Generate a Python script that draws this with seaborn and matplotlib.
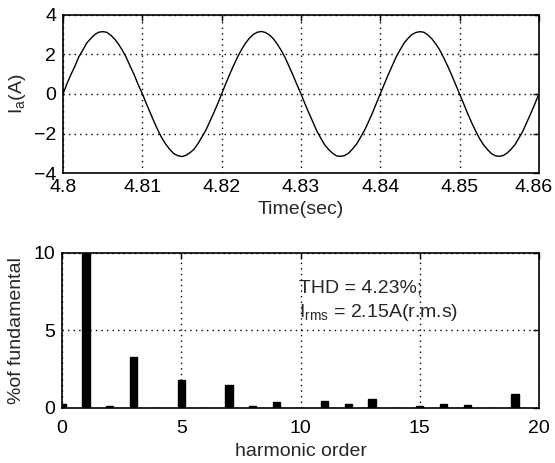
import numpy as np
import pandas as pd
import matplotlib
matplotlib.use("Agg")
import matplotlib.pyplot as plt
import matplotlib.transforms as mtransforms
import seaborn as sns

# phase current samples, 0.5 ms apart, 4.800 s .. 4.860 s
current = [
    0.00, 0.52, 0.98, 1.40, 1.88, 2.22, 2.58, 2.80, 3.00, 3.12,
    3.15, 3.12, 2.98, 2.78, 2.52, 2.20, 1.82, 1.38, 0.95, 0.45,
    0.02, -0.48, -0.95, -1.42, -1.86, -2.25, -2.56, -2.82, -3.02, -3.12,
    -3.16, -3.10, -2.97, -2.80, -2.52, -2.18, -1.84, -1.40, -0.96, -0.50,
    0.00, 0.50, 0.98, 1.43, 1.86, 2.24, 2.56, 2.82, 3.01, 3.12,
    3.16, 3.11, 2.99, 2.80, 2.53, 2.21, 1.84, 1.40, 0.94, 0.47,
    0.01, -0.49, -0.96, -1.41, -1.87, -2.23, -2.57, -2.81, -3.00, -3.13,
    -3.15, -3.11, -2.99, -2.78, -2.54, -2.20, -1.85, -1.42, -0.97, -0.48,
    0.01, 0.49, 0.97, 1.42, 1.87, 2.23, 2.57, 2.81, 3.01, 3.11,
    3.15, 3.12, 2.98, 2.79, 2.53, 2.22, 1.83, 1.41, 0.96, 0.48,
    0.00, -0.48, -0.97, -1.43, -1.85, -2.24, -2.56, -2.80, -3.01, -3.12,
    -3.15, -3.11, -2.98, -2.79, -2.55, -2.21, -1.86, -1.41, -0.96, -0.49,
    0.00,
]
time = np.linspace(4.80, 4.86, len(current))

# harmonic spectrum (% of fundamental)
orders = [0, 1, 2, 3, 4, 5, 6, 7, 8, 9, 10, 11, 12, 13, 14, 15, 16, 17, 18, 19, 20]
percent = [0.25, 100, 0.15, 3.3, 0.0, 1.8, 0.0, 1.46, 0.15, 0.35, 0.0,
           0.42, 0.25, 0.55, 0.0, 0.15, 0.25, 0.2, 0.0, 0.87, 0.0]

thd_text = "THD = 4.23%;"
rms_text = r"$\mathregular{I_{rms}}$ = 2.15A(r.m.s)"

sns.set_style("white")
plt.rcParams["font.family"] = ["Liberation Sans", "DejaVu Sans"]
plt.rcParams["font.size"] = 14
plt.rcParams["mathtext.fontset"] = "custom"
plt.rcParams["mathtext.rm"] = "Liberation Sans"

fig = plt.figure(figsize=(5.55, 4.63), dpi=100)
ax1 = fig.add_axes([0.1135, 0.626, 0.8575, 0.342])
ax2 = fig.add_axes([0.112, 0.119, 0.859, 0.3346])


def matlab_axes(ax, xpad):
    for s in ax.spines.values():
        s.set_visible(True)
        s.set_color("black")
        s.set_linewidth(1.2)
    ax.tick_params(direction="in", length=4, width=1, colors="black",
                   top=True, right=True, labelsize=14)
    ax.tick_params(axis="y", pad=5)
    ax.tick_params(axis="x", pad=xpad)
    ax.grid(True, linestyle=(0, (1, 3)), color="black", linewidth=1)
    ax.set_axisbelow(False)


df_i = pd.DataFrame({"t": time, "i": current})
sns.lineplot(data=df_i, x="t", y="i", ax=ax1, color="black", linewidth=1)
ax1.set_xlim(4.80, 4.86)
ax1.set_ylim(-4, 4)
ax1.set_xticks([4.80, 4.81, 4.82, 4.83, 4.84, 4.85, 4.86])
ax1.set_xticklabels(["4.8", "4.81", "4.82", "4.83", "4.84", "4.85", "4.86"])
ax1.set_yticks([-4, -2, 0, 2, 4])
matlab_axes(ax1, 4)
ax1.set_xlabel("Time(sec)", fontsize=14, labelpad=4)
ax1.set_ylabel(r"I$_\mathregular{a}$(A)", fontsize=14, labelpad=4)

# nudge last time label left so it stays inside the figure
last = ax1.get_xticklabels()[-1]
last.set_transform(last.get_transform() +
                   mtransforms.ScaledTranslation(-0.05, 0, fig.dpi_scale_trans))

df_h = pd.DataFrame({"order": orders, "pct": percent})
sns.barplot(data=df_h, x="order", y="pct", ax=ax2, native_scale=True,
            color="black", width=0.3, saturation=1, edgecolor="black")
ax2.set_xlim(0, 20)
ax2.set_ylim(0, 10)
ax2.set_xticks([0, 5, 10, 15, 20])
ax2.set_yticks([0, 5, 10])
matlab_axes(ax2, 9)
ax2.set_xlabel("harmonic order", fontsize=14, labelpad=4)
ax2.set_ylabel("%of fundamental", fontsize=14, labelpad=6)
ax2.text(9.92, 7.74, thd_text, fontsize=14, ha="left", va="center")
ax2.text(9.92, 6.15, rms_text, fontsize=14, ha="left", va="center")

fig.savefig("out.png", dpi=100)
